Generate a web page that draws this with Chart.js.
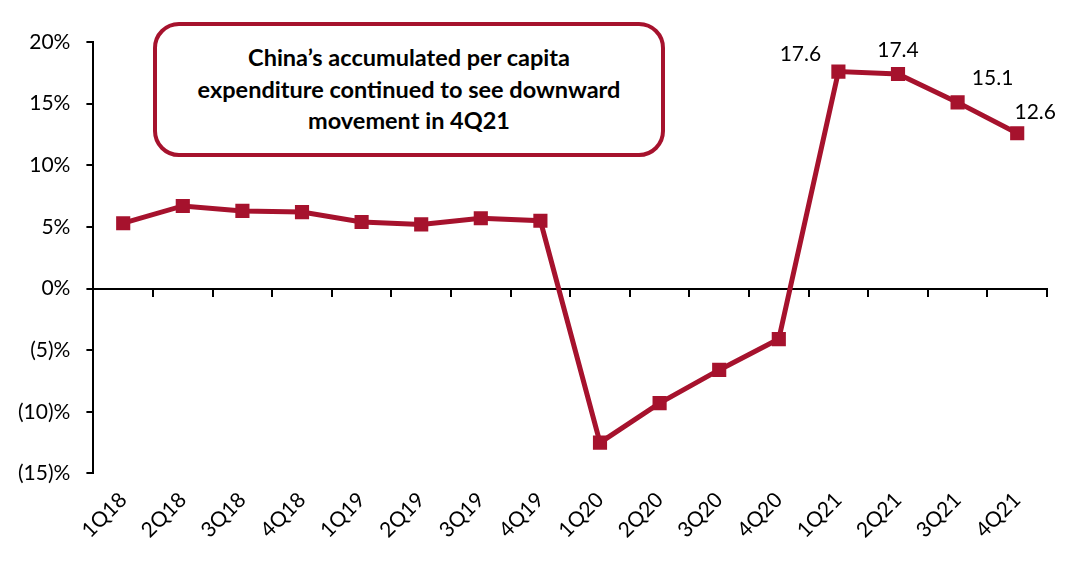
<!DOCTYPE html>
<html>
<head>
<meta charset="utf-8">
<script src="https://cdn.jsdelivr.net/npm/chart.js@4/dist/chart.umd.min.js"></script>
<style>
    html, body { margin: 0; padding: 0; background: #fff; }
    #wrap { position: relative; width: 1087px; height: 570px; }
    #callout {
        position: absolute;
        left: 153px;
        top: 22px;
        width: 504px;
        height: 127px;
        border: 4px solid #a6122d;
        border-radius: 26px;
        display: flex;
        align-items: center;
        justify-content: center;
        text-align: center;
        font-family: Lato, "Noto Sans", sans-serif;
        font-weight: bold;
        font-size: 23.5px;
        line-height: 31.5px;
        color: #000;
        background: #fff;
    }
</style>
</head>
<body>
<div id="wrap">
    <canvas id="chart" width="1087" height="570"></canvas>
    <div id="callout">China’s accumulated per capita<br>expenditure continued to see downward<br>movement in 4Q21</div>
</div>
<script>
const quarters = ["1Q18", "2Q18", "3Q18", "4Q18", "1Q19", "2Q19", "3Q19", "4Q19",
    "1Q20", "2Q20", "3Q20", "4Q20", "1Q21", "2Q21", "3Q21", "4Q21"];
const growth = [5.3, 6.7, 6.3, 6.2, 5.4, 5.2, 5.7, 5.5,
    -12.5, -9.3, -6.6, -4.1, 17.6, 17.4, 15.1, 12.6];
// only the last four points carry a value label
const labelled = [12, 13, 14, 15];
const labelShift = { 12: [-38, -17], 13: [0, -24], 14: [35, -24], 15: [18, -21] };

const red = "#a6122d";
const fontFamily = "Lato, 'Noto Sans', sans-serif";

const valueLabels = {
    id: "valueLabels",
    afterDatasetsDraw(chart) {
        const ctx = chart.ctx;
        const meta = chart.getDatasetMeta(0);
        ctx.save();
        ctx.font = "21px " + fontFamily;
        ctx.fillStyle = "#000";
        ctx.textAlign = "center";
        ctx.textBaseline = "middle";
        labelled.forEach(i => {
            const pt = meta.data[i];
            const s = labelShift[i];
            ctx.fillText(growth[i].toFixed(1), pt.x + s[0], pt.y + s[1]);
        });
        ctx.restore();
    }
};

const ctx = document.getElementById("chart").getContext("2d");
new Chart(ctx, {
    type: "line",
    data: {
        labels: quarters,
        datasets: [{
            data: growth,
            borderColor: red,
            backgroundColor: red,
            borderWidth: 5,
            pointStyle: "rect",
            pointRadius: 10,
            pointHoverRadius: 10,
            pointBorderWidth: 0,
            tension: 0,
            xAxisID: "x"
        }]
    },
    options: {
        responsive: false,
        animation: false,
        layout: { padding: { left: 2, right: 40, top: 42, bottom: 21 } },
        plugins: {
            legend: { display: false },
            tooltip: { enabled: false }
        },
        scales: {
            x: {
                type: "category",
                offset: true,
                grid: { display: false },
                border: { display: false },
                ticks: {
                    color: "#000",
                    font: { family: fontFamily, size: 21 },
                    minRotation: 45,
                    maxRotation: 45,
                    padding: 6
                }
            },
            x0: {
                type: "category",
                position: { y: 0 },
                offset: true,
                grid: { offset: true, drawOnChartArea: false, drawTicks: true, tickLength: 7, color: "#000", lineWidth: 2 },
                border: { display: true, color: "#000", width: 2 },
                ticks: { display: false }
            },
            y: {
                min: -15,
                max: 20,
                grid: { drawOnChartArea: false, drawTicks: true, tickLength: 7, color: "#000", lineWidth: 2 },
                border: { display: true, color: "#000", width: 2 },
                ticks: {
                    stepSize: 5,
                    color: "#000",
                    padding: 16,
                    font: { family: fontFamily, size: 21 },
                    callback: v => v < 0 ? "(" + Math.abs(v) + ")%" : v + "%"
                }
            }
        }
    },
    plugins: [valueLabels]
});
</script>
</body>
</html>
